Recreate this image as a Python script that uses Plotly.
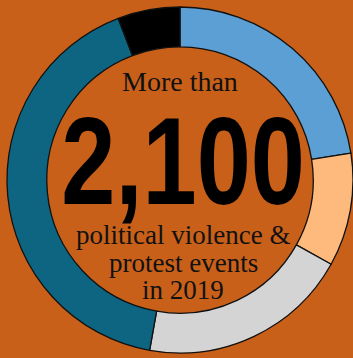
import plotly.graph_objects as go

# Event counts by type, 2019 (ring segments, clockwise from 12 o'clock)
event_types = ["Protests", "Riots", "Violence against civilians", "Battles", "Explosions/Remote violence"]
event_counts = [473, 222, 414, 869, 122]
segment_colors = ["#5B9FD4", "#FDBA7C", "#D4D4D4", "#0D6582", "#000000"]

headline_top = "More than"
headline_number = "2,100"
headline_lines = ["political violence &", "protest events", "in 2019"]

W, H = 353, 358
BG = "#C8601A"
NUMBER_SQUEEZE = 0.785  # horizontal condensing of the big number


def py(px):
    """Pixel row (from top) to paper y."""
    return 1 - px / H


fig = go.Figure(
    go.Pie(
        labels=event_types,
        values=event_counts,
        sort=False,
        direction="clockwise",
        rotation=0,
        hole=0.77,
        marker=dict(colors=segment_colors, line=dict(color="#111111", width=1.3)),
        textinfo="none",
        hoverinfo="label+value",
        showlegend=False,
        domain=dict(x=[7 / W, 1], y=[py(353), py(7)]),
    )
)

serif = "Liberation Serif, DejaVu Serif, serif"
annotations = [
    dict(text=headline_top, x=180 / W, y=py(81), font=dict(family=serif, size=28, color="#111111")),
    dict(
        text="<b>" + headline_number + "</b>",
        x=183 / W,
        y=py(161),
        font=dict(family="Liberation Sans, Arial, sans-serif", size=124, color="#000000"),
    ),
]
for i, line in enumerate(headline_lines):
    annotations.append(
        dict(text=line, x=183 / W, y=py(235 + 27.5 * i), font=dict(family=serif, size=27, color="#111111"))
    )
for a in annotations:
    a.update(xref="paper", yref="paper", xanchor="center", yanchor="middle", showarrow=False)

fig.update_layout(
    width=W,
    height=H,
    margin=dict(l=0, r=0, t=0, b=0),
    paper_bgcolor=BG,
    plot_bgcolor=BG,
    annotations=annotations,
)

# Condense the big number horizontally around its own centre
condense_js = """
var gd = document.getElementById('{plot_id}');
function condenseNumber() {
  gd.querySelectorAll('.annotation-text').forEach(function (t) {
    if (t.textContent === '%s') {
      var b = t.getBBox();
      var cx = b.x + b.width / 2;
      t.setAttribute('transform',
        'translate(' + cx + ',0) scale(%s,1) translate(' + (-cx) + ',0)');
    }
  });
}
condenseNumber();
gd.on('plotly_afterplot', condenseNumber);
""" % (headline_number, NUMBER_SQUEEZE)

fig.write_html("out.html", config={"displayModeBar": False}, post_script=condense_js)
